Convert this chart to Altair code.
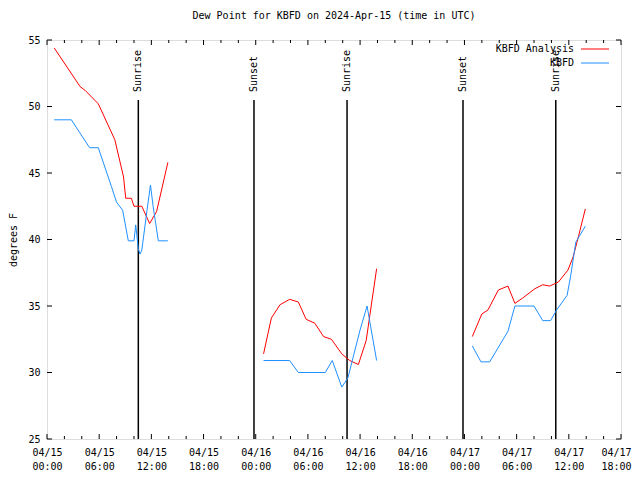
import altair as alt
import pandas as pd

TITLE = "Dew Point for KBFD on 2024-Apr-15 (time in UTC)"
SERIES = ["KBFD Analysis", "KBFD"]
COLORS = ["#ff0000", "#1e90ff"]
FONT = "DejaVu Sans Mono"

# ---- KBFD Analysis (red) ----
ana_run1_time = ["2024-04-15T00:50:00Z", "2024-04-15T03:48:00Z", "2024-04-15T04:24:00Z",
                 "2024-04-15T05:54:00Z", "2024-04-15T07:48:00Z", "2024-04-15T08:48:00Z",
                 "2024-04-15T09:03:00Z", "2024-04-15T09:42:00Z", "2024-04-15T10:00:00Z",
                 "2024-04-15T10:54:00Z", "2024-04-15T11:48:00Z", "2024-04-15T12:36:00Z",
                 "2024-04-15T13:54:00Z"]
ana_run1_dew = [54.4, 51.5, 51.2, 50.2, 47.5, 44.7, 43.1, 43.1, 42.5, 42.5, 41.2, 42.1, 45.8]

ana_run2_time = ["2024-04-16T00:54:00Z", "2024-04-16T01:48:00Z", "2024-04-16T02:48:00Z",
                 "2024-04-16T03:54:00Z", "2024-04-16T04:54:00Z", "2024-04-16T05:48:00Z",
                 "2024-04-16T06:48:00Z", "2024-04-16T07:48:00Z", "2024-04-16T08:42:00Z",
                 "2024-04-16T09:54:00Z", "2024-04-16T10:48:00Z", "2024-04-16T11:48:00Z",
                 "2024-04-16T12:42:00Z", "2024-04-16T13:54:00Z"]
ana_run2_dew = [31.4, 34.1, 35.1, 35.5, 35.3, 34.0, 33.7, 32.7, 32.5, 31.4, 30.9, 30.6, 32.4, 37.8]

ana_run3_time = ["2024-04-17T00:54:00Z", "2024-04-17T02:00:00Z", "2024-04-17T02:42:00Z",
                 "2024-04-17T03:54:00Z", "2024-04-17T05:00:00Z", "2024-04-17T05:48:00Z",
                 "2024-04-17T06:42:00Z", "2024-04-17T08:06:00Z", "2024-04-17T09:00:00Z",
                 "2024-04-17T09:48:00Z", "2024-04-17T10:48:00Z", "2024-04-17T11:54:00Z",
                 "2024-04-17T12:30:00Z", "2024-04-17T13:06:00Z", "2024-04-17T13:54:00Z"]
ana_run3_dew = [32.7, 34.4, 34.7, 36.2, 36.5, 35.2, 35.6, 36.3, 36.6, 36.5, 36.8, 37.7, 38.7, 40.2, 42.3]

# ---- KBFD observations (blue) ----
obs_run1_time = ["2024-04-15T00:50:00Z", "2024-04-15T02:48:00Z", "2024-04-15T04:54:00Z",
                 "2024-04-15T05:54:00Z", "2024-04-15T07:24:00Z", "2024-04-15T08:00:00Z",
                 "2024-04-15T08:42:00Z", "2024-04-15T09:21:00Z", "2024-04-15T10:00:00Z",
                 "2024-04-15T10:12:00Z", "2024-04-15T10:30:00Z", "2024-04-15T10:42:00Z",
                 "2024-04-15T10:54:00Z", "2024-04-15T11:30:00Z", "2024-04-15T11:54:00Z",
                 "2024-04-15T12:12:00Z", "2024-04-15T12:48:00Z", "2024-04-15T13:54:00Z"]
obs_run1_dew = [49.0, 49.0, 46.9, 46.9, 44.0, 42.8, 42.2, 39.9, 39.9, 41.1, 39.3, 38.9,
                39.2, 42.2, 44.1, 42.5, 39.9, 39.9]

obs_run2_time = ["2024-04-16T00:54:00Z", "2024-04-16T03:54:00Z", "2024-04-16T04:54:00Z",
                 "2024-04-16T08:00:00Z", "2024-04-16T08:48:00Z", "2024-04-16T09:54:00Z",
                 "2024-04-16T10:36:00Z", "2024-04-16T12:00:00Z", "2024-04-16T12:48:00Z",
                 "2024-04-16T13:54:00Z"]
obs_run2_dew = [30.9, 30.9, 30.0, 30.0, 30.9, 28.9, 29.6, 33.2, 35.0, 30.9]

obs_run3_time = ["2024-04-17T00:54:00Z", "2024-04-17T01:54:00Z", "2024-04-17T02:54:00Z",
                 "2024-04-17T05:00:00Z", "2024-04-17T05:48:00Z", "2024-04-17T08:00:00Z",
                 "2024-04-17T09:00:00Z", "2024-04-17T09:54:00Z", "2024-04-17T10:36:00Z",
                 "2024-04-17T11:48:00Z", "2024-04-17T12:12:00Z", "2024-04-17T12:48:00Z",
                 "2024-04-17T13:54:00Z"]
obs_run3_dew = [32.0, 30.8, 30.8, 33.1, 35.0, 35.0, 33.9, 33.9, 34.7, 35.8, 37.2, 39.8, 41.0]

# ---- sunrise / sunset ----
sun_time = ["2024-04-15T10:30:00Z", "2024-04-15T23:48:00Z", "2024-04-16T10:30:00Z",
            "2024-04-16T23:50:00Z", "2024-04-17T10:30:00Z"]
sun_label = ["Sunrise", "Sunset", "Sunrise", "Sunset", "Sunrise"]

X_START = "2024-04-15T00:00:00Z"
X_END = "2024-04-17T18:00:00Z"
Y_TICKS = [25, 30, 35, 40, 45, 50, 55]

W, H = 574, 399

# ---- build tables ----
rows = []
for series, runs in [
    ("KBFD Analysis", [(ana_run1_time, ana_run1_dew), (ana_run2_time, ana_run2_dew),
                       (ana_run3_time, ana_run3_dew)]),
    ("KBFD", [(obs_run1_time, obs_run1_dew), (obs_run2_time, obs_run2_dew),
              (obs_run3_time, obs_run3_dew)]),
]:
    for i, (ts, vs) in enumerate(runs):
        for t, v in zip(ts, vs):
            rows.append({"time": t, "dew": v, "series": series, "run": f"{series}-{i}"})
df = pd.DataFrame(rows)

sun_df = pd.DataFrame({"time": sun_time, "label": sun_label})

t0 = pd.Timestamp(X_START)
t1 = pd.Timestamp(X_END)
to_ms = lambda ts: int(ts.value // 10**6)
tick_ts = pd.date_range(t0, t1, freq="2h")
ticks_df = pd.DataFrame({
    "time": [t.strftime("%Y-%m-%dT%H:%M:%SZ") for t in tick_ts],
    "major": [t.hour % 6 == 0 for t in tick_ts],
})
major_vals = [to_ms(t) for t in tick_ts if t.hour % 6 == 0]
yt_df = pd.DataFrame({"v": Y_TICKS})

xscale = alt.Scale(type="utc", domain=[to_ms(t0), to_ms(t1)])
yscale = alt.Scale(domain=[25, 55], nice=False, zero=False)
cscale = alt.Scale(domain=SERIES, range=COLORS)

xaxis = alt.Axis(
    values=major_vals, title=None, grid=False, ticks=False, tickSize=0, domain=False,
    labelExpr="[utcFormat(datum.value, '%m/%d'), utcFormat(datum.value, '%H:%M')]",
    labelFont=FONT, labelFontSize=10, labelColor="black", labelPadding=8,
    labelLineHeight=14, labelFlush=False, labelOverlap=False,
    labelOffset={"condition": {"test": f"datum.value >= {major_vals[-1]}", "value": -5},
                 "value": 0},
)
yaxis = alt.Axis(
    values=Y_TICKS, title="degrees F", grid=False, ticks=False, tickSize=0, domain=False,
    labelFont=FONT, labelFontSize=10, labelColor="black", labelPadding=7,
    titleFont=FONT, titleFontSize=10, titleFontWeight="normal", titleColor="black",
    titlePadding=9,
)

lines = alt.Chart(df).mark_line(strokeWidth=1).encode(
    x=alt.X("time:T", scale=xscale, axis=xaxis),
    y=alt.Y("dew:Q", scale=yscale, axis=yaxis),
    color=alt.Color("series:N", scale=cscale, legend=None),
    detail="run:N",
    order=alt.Order("time:T"),
)

sun_rules = alt.Chart(sun_df).mark_rule(color="black", strokeWidth=1.5).encode(
    x=alt.X("time:T", scale=xscale),
    y=alt.value(H),
    y2=alt.value(60),
)
sun_text = alt.Chart(sun_df).mark_text(
    angle=270, align="left", baseline="middle", font=FONT, fontSize=10, color="black", dx=0
).encode(
    x=alt.X("time:T", scale=xscale),
    y=alt.value(52),
    text="label:N",
)

major_ticks = ticks_df[ticks_df["major"]]
minor_ticks = ticks_df[~ticks_df["major"]]

def xticks(data, length):
    bot = alt.Chart(data).mark_rule(color="black", strokeWidth=1).encode(
        x=alt.X("time:T", scale=xscale), y=alt.value(H), y2=alt.value(H - length))
    top = alt.Chart(data).mark_rule(color="black", strokeWidth=1).encode(
        x=alt.X("time:T", scale=xscale), y=alt.value(0), y2=alt.value(length))
    return bot + top

yt_left = alt.Chart(yt_df).mark_rule(color="black", strokeWidth=1).encode(
    y=alt.Y("v:Q", scale=yscale), x=alt.value(0), x2=alt.value(5))
yt_right = alt.Chart(yt_df).mark_rule(color="black", strokeWidth=1).encode(
    y=alt.Y("v:Q", scale=yscale), x=alt.value(W), x2=alt.value(W - 5))

leg_df = pd.DataFrame({"series": SERIES})
leg_df["ypix"] = [9 + 14 * i for i in range(len(SERIES))]
leg_text = alt.Chart(leg_df).mark_text(
    align="right", baseline="middle", font=FONT, fontSize=10, color="black"
).encode(
    x=alt.value(527), y=alt.Y("ypix:Q", scale=None), text="series:N")
leg_line = alt.Chart(leg_df).mark_rule(strokeWidth=1).encode(
    x=alt.value(534), x2=alt.value(562), y=alt.Y("ypix:Q", scale=None),
    color=alt.Color("series:N", scale=cscale, legend=None))

chart = alt.layer(
    xticks(major_ticks, 5), xticks(minor_ticks, 3), yt_left, yt_right,
    sun_rules, sun_text, lines, leg_text, leg_line,
).properties(
    width=W, height=H,
    title=alt.TitleParams(TITLE, font=FONT, fontSize=10, fontWeight="normal",
                          color="black", anchor="middle", offset=14),
    autosize=alt.AutoSizeParams(type="none"),
    padding={"left": 39, "top": 32, "right": 11, "bottom": 33},
).configure_view(
    stroke="black", strokeWidth=1
).configure(background="white")

chart.save("out.html", embed_options={"renderer": "svg", "actions": False})
